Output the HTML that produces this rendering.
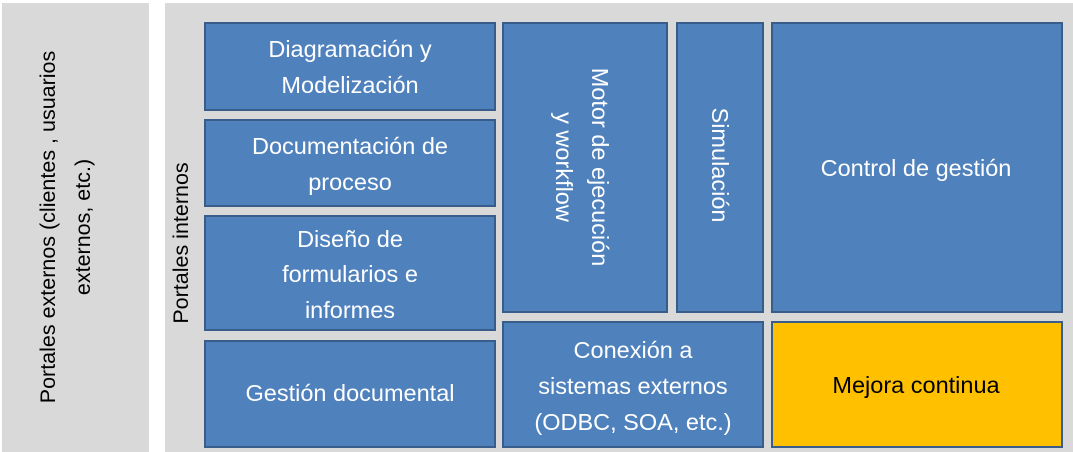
<!DOCTYPE html>
<html><head><meta charset="utf-8"><style>
html,body{margin:0;padding:0;background:#fff;width:1073px;height:452px;overflow:hidden}
svg text{font-family:"Liberation Sans",sans-serif}
.w{fill:#fff;font-size:23.5px;text-anchor:middle}
.b{fill:#4f81bd;stroke:#385d8a;stroke-width:2}
.g{fill:#000;font-size:21.5px;text-anchor:middle}
</style></head><body>
<svg width="1073" height="452" viewBox="0 0 1073 452">
<rect x="2" y="3" width="147" height="449" fill="#d9d9d9"/>
<rect x="165" y="3" width="908" height="449" fill="#d9d9d9"/>
<g transform="translate(66,227) rotate(-90)">
<text class="g" x="0" y="-11">Portales externos (clientes , usuarios</text>
<text class="g" x="0" y="24">externos, etc.)</text>
</g>
<g transform="translate(188,243) rotate(-90)"><text class="g" x="0" y="0">Portales internos</text></g>

<rect class="b" x="205" y="23" width="290" height="87"/>
<rect class="b" x="205" y="120" width="290" height="86"/>
<rect class="b" x="205" y="216" width="290" height="114"/>
<rect class="b" x="205" y="341" width="290" height="106"/>
<rect class="b" x="503" y="23" width="164" height="289"/>
<rect class="b" x="677" y="23" width="86" height="289"/>
<rect class="b" x="772" y="23" width="290" height="289"/>
<rect class="b" x="503" y="322" width="260" height="125"/>
<rect x="772" y="322" width="290" height="125" fill="#ffc000" stroke="#385d8a" stroke-width="2"/>

<text class="w" x="350" y="57">Diagramación y</text>
<text class="w" x="350" y="93">Modelización</text>
<text class="w" x="350" y="154">Documentación de</text>
<text class="w" x="350" y="190">proceso</text>
<text class="w" x="350" y="247">Diseño de</text>
<text class="w" x="350" y="282">formularios e</text>
<text class="w" x="350" y="318">informes</text>
<text class="w" x="350" y="401">Gestión documental</text>
<text class="w" x="916" y="176">Control de gestión</text>
<text class="w" x="633" y="358">Conexión a</text>
<text class="w" x="633" y="394">sistemas externos</text>
<text class="w" x="633" y="430">(ODBC, SOA, etc.)</text>
<text x="916" y="393" style="fill:#000;font-size:23.5px;text-anchor:middle">Mejora continua</text>
<g transform="translate(584,167) rotate(90)">
<text class="w" x="0" y="-8">Motor de ejecución</text>
<text class="w" x="0" y="28">y workflow</text>
</g>
<g transform="translate(720,165) rotate(90)"><text class="w" x="0" y="8">Simulación</text></g>
</svg>
</body></html>
